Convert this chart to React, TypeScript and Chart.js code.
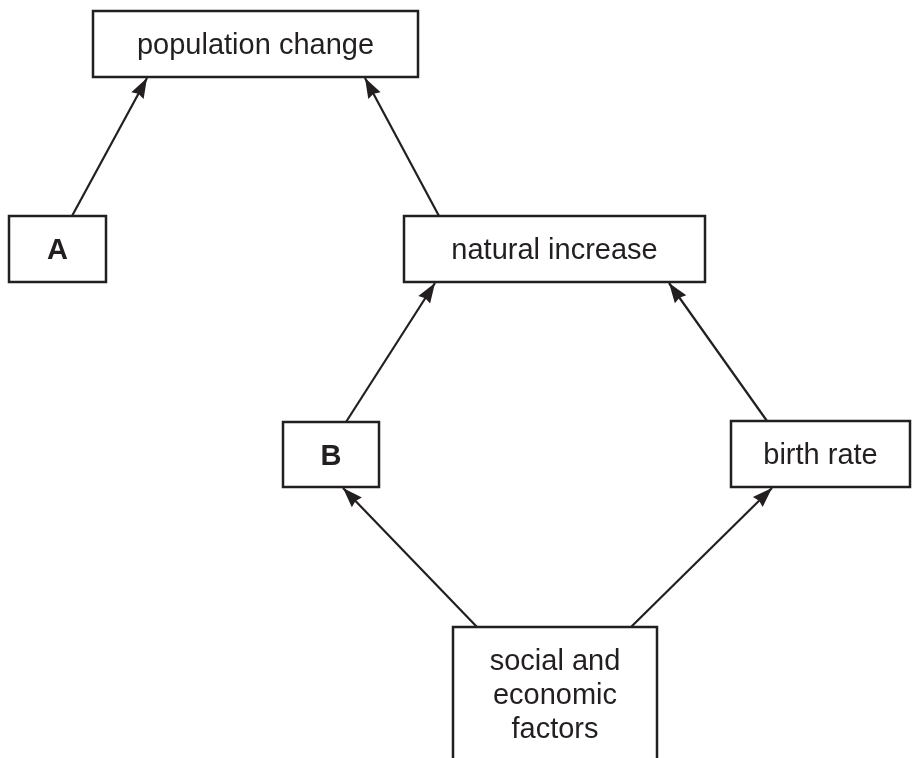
import React, { useEffect, useRef } from "react";
import { Chart, registerables } from "chart.js";

Chart.register(...registerables);

// Diagram nodes (values in the diagram's own coordinate space, 0..913 x 0..758)
const nodeLabels = ["population change", "A", "natural increase", "B", "birth rate", "social and\neconomic\nfactors"];
const nodeCenterX = [255.5, 57.5, 554.5, 331, 820.5, 555];
const nodeCenterY = [44, 249, 249, 454.5, 454, 694];
const nodeWidth = [325, 97, 301, 96, 179, 204];
const nodeHeight = [66, 66, 66, 65, 66, 134];
const nodeBold = [false, true, false, true, false, false];

// Arrows: from source box top to target box bottom
const edgeFrom = [1, 2, 3, 4, 5, 5];
const edgeTo = [0, 0, 2, 2, 3, 4];
const edgeStartX = [72, 439, 346, 767, 477, 631];
const edgeEndX = [147, 365, 435, 669, 343, 772];

const INK = "#231f20";
const FONT = "'Liberation Sans', Arial, Helvetica, sans-serif";

function topOf(i: number) {
  return nodeCenterY[i] - nodeHeight[i] / 2;
}
function bottomOf(i: number) {
  return nodeCenterY[i] + nodeHeight[i] / 2;
}

const diagramPlugin = {
  id: "diagram",
  beforeDraw(chart: any) {
    const ctx = chart.ctx;
    ctx.save();
    ctx.fillStyle = "#ffffff";
    ctx.fillRect(0, 0, chart.width, chart.height);
    ctx.restore();
  },
  afterDatasetsDraw(chart: any) {
    const ctx = chart.ctx as CanvasRenderingContext2D;
    const xs = chart.scales.x;
    const ys = chart.scales.y;
    ctx.save();
    // arrowheads
    for (let e = 0; e < edgeFrom.length; e++) {
      const x1 = xs.getPixelForValue(edgeStartX[e]);
      const y1 = ys.getPixelForValue(topOf(edgeFrom[e]));
      const x2 = xs.getPixelForValue(edgeEndX[e]);
      const y2 = ys.getPixelForValue(bottomOf(edgeTo[e]) + 1);
      const ang = Math.atan2(y2 - y1, x2 - x1);
      const len = 20;
      const hw = 7;
      const bx = x2 - len * Math.cos(ang);
      const by = y2 - len * Math.sin(ang);
      const nx = -Math.sin(ang);
      const ny = Math.cos(ang);
      ctx.beginPath();
      ctx.moveTo(x2, y2);
      ctx.lineTo(bx + nx * hw, by + ny * hw);
      ctx.lineTo(x2 - (len * 0.9) * Math.cos(ang), y2 - (len * 0.9) * Math.sin(ang));
      ctx.lineTo(bx - nx * hw, by - ny * hw);
      ctx.closePath();
      ctx.fillStyle = INK;
      ctx.fill();
    }
    // boxes and labels
    for (let i = 0; i < nodeLabels.length; i++) {
      const left = xs.getPixelForValue(nodeCenterX[i] - nodeWidth[i] / 2);
      const right = xs.getPixelForValue(nodeCenterX[i] + nodeWidth[i] / 2);
      const top = ys.getPixelForValue(topOf(i));
      const bottom = ys.getPixelForValue(bottomOf(i));
      ctx.lineWidth = 2.5;
      ctx.strokeStyle = INK;
      ctx.strokeRect(left, top, right - left, bottom - top);
      const lines = nodeLabels[i].split("\n");
      const size = 29;
      const lh = 34;
      ctx.font = `${nodeBold[i] ? "bold " : ""}${size}px ${FONT}`;
      ctx.fillStyle = INK;
      ctx.textAlign = "center";
      ctx.textBaseline = "alphabetic";
      const cx = xs.getPixelForValue(nodeCenterX[i]);
      const cy = ys.getPixelForValue(nodeCenterY[i]);
      const first = cy + 10 - ((lines.length - 1) * lh) / 2;
      lines.forEach((ln, k) => ctx.fillText(ln, cx, first + k * lh));
    }
    ctx.restore();
  },
};

export default function App() {
  const ref = useRef<HTMLCanvasElement | null>(null);
  useEffect(() => {
    if (!ref.current) return;
    const edgeDatasets = edgeFrom.map((f, e) => ({
      type: "line" as const,
      label: `edge${e}`,
      data: [
        { x: edgeStartX[e], y: topOf(f) },
        { x: edgeEndX[e], y: bottomOf(edgeTo[e]) + 1 },
      ],
      borderColor: INK,
      borderWidth: 2.2,
      pointRadius: 0,
      showLine: true,
      fill: false,
      tension: 0,
    }));
    const chart = new Chart(ref.current, {
      type: "scatter",
      data: {
        datasets: [
          {
            label: "nodes",
            data: nodeCenterX.map((x, i) => ({ x, y: nodeCenterY[i] })),
            pointRadius: 0,
            backgroundColor: "transparent",
            borderColor: "transparent",
          },
          ...edgeDatasets,
        ] as any,
      },
      options: {
        animation: false,
        responsive: false,
        events: [],
        layout: { padding: 0 },
        plugins: { legend: { display: false }, tooltip: { enabled: false } },
        scales: {
          x: { type: "linear", min: 0, max: 913, display: false },
          y: { type: "linear", min: 0, max: 758, reverse: true, display: false },
        },
      },
      plugins: [diagramPlugin],
    });
    return () => chart.destroy();
  }, []);
  return (
    <div style={{ position: "absolute", left: 0, top: 0, width: 913, height: 758 }}>
      <canvas ref={ref} width={913} height={758} style={{ width: 913, height: 758, display: "block" }} />
    </div>
  );
}
